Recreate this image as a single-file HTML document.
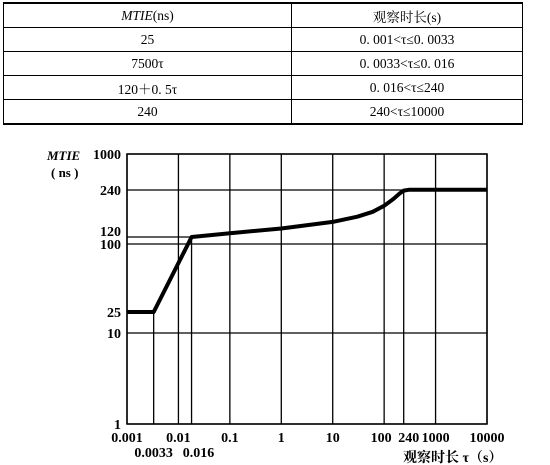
<!DOCTYPE html>
<html><head><meta charset="utf-8"><style>
body{margin:0;background:#fff;width:550px;height:465px;overflow:hidden;font-family:"Liberation Serif","Noto Serif CJK SC",serif;}
table{position:absolute;left:3px;top:2px;width:520px;border-collapse:collapse;font-size:13.5px;}
td{border:1px solid #000;height:23px;text-align:center;padding:0;}
table tr:first-child td{border-top:2px solid #000;}
table tr:last-child td{border-bottom:2px solid #000;}
svg{position:absolute;left:0;top:0;}
</style></head><body>
<table>
<tr><td style="width:287px"><i>MTIE</i>(ns)</td><td>观察时长(s)</td></tr>
<tr><td>25</td><td>0. 001&lt;τ≤0. 0033</td></tr>
<tr><td>7500τ</td><td>0. 0033&lt;τ≤0. 016</td></tr>
<tr><td>120＋0. 5τ</td><td>0. 016&lt;τ≤240</td></tr>
<tr><td>240</td><td>240&lt;τ≤10000</td></tr>
</table>
<svg id="c" width="550" height="465"></svg>
<script>
const xTicks=[0.001,0.01,0.1,1,10,100,1000,10000];
const xTickLabels=["0.001","0.01","0.1","1","10","100","1000","10000"];
const xExtra=[0.0033,0.016,240];
const xExtraLabels=["0.0033","0.016","240"];
const yTicks=[1,10,25,100,120,240,1000];
const yTickLabels=["1","10","25","100","120","240","1000"];
const tauValues=[0.001,0.0033,0.018,0.1,1,10,30,60,100,150,200,240,300,10000];
const mtieValues=[25,25,120,127,136,150,162,174,190,210,228,238,242,242];
const L=127,R=487,T=154,B=424;
const yAnchorV=[1,10,25,100,120,240,1000];
const yAnchorP=[424,333,312,244,237,190,154];
function xs(v){return L+(Math.log10(v)+3)*(R-L)/7;}
function ys(v){const lv=Math.log10(v);for(let i=0;i<yAnchorV.length-1;i++){const a=Math.log10(yAnchorV[i]),b=Math.log10(yAnchorV[i+1]);if(lv<=b||i==yAnchorV.length-2){return yAnchorP[i]+(lv-a)/(b-a)*(yAnchorP[i+1]-yAnchorP[i]);}}}
const s=document.getElementById('c');const NS='http://www.w3.org/2000/svg';
function el(t,a,txt){const e=document.createElementNS(NS,t);for(const k in a)e.setAttribute(k,a[k]);if(txt!==undefined)e.textContent=txt;s.appendChild(e);return e;}
function yAt(t){for(let i=0;i<tauValues.length-1;i++){if(t<=tauValues[i+1]){const f=(Math.log10(t)-Math.log10(tauValues[i]))/(Math.log10(tauValues[i+1])-Math.log10(tauValues[i]));return ys(mtieValues[i])+f*(ys(mtieValues[i+1])-ys(mtieValues[i]));}}return ys(mtieValues[mtieValues.length-1]);}
let e=el('rect',{x:L,y:T,width:R-L,height:B-T,fill:'none',stroke:'#000','stroke-width':1.5});

xTicks.forEach((v,i)=>{let g=el('line',{x1:xs(v),x2:xs(v),y1:T,y2:B,stroke:'#000','stroke-width':1.3});

let off=v==100?-3:0;
let t=el('text',{x:xs(v)+off,y:442,'text-anchor':'middle','font-size':14,'font-weight':'bold'},xTickLabels[i]);
});
xExtra.forEach((v,i)=>{const xv=v==0.016?xs(0.018):xs(v);let g=el('line',{x1:xv,x2:xv,y1:yAt(v==0.016?0.018:v),y2:B,stroke:'#000','stroke-width':1.3});

let off=v==240?5:(v==0.016?7:0);
let t=el('text',{x:xv+off,y:v==240?442:457,'text-anchor':'middle','font-size':14,'font-weight':'bold'},xExtraLabels[i]);
});
yTicks.forEach((v,i)=>{const y=ys(v);
if(v==120){let g=el('line',{x1:L,x2:xs(0.018),y1:y,y2:y,stroke:'#000','stroke-width':1.3});}
else if(v!=25){let g=el('line',{x1:L,x2:R,y1:y,y2:y,stroke:'#000','stroke-width':1.3});}
let dy=v==120?-1:5;
let t=el('text',{x:L-6,y:y+dy,'text-anchor':'end','font-size':14,'font-weight':'bold'},yTickLabels[i]);
});
const d=tauValues.map((t,i)=>(i?'L':'M')+xs(t).toFixed(1)+','+ys(mtieValues[i]).toFixed(1)).join(' ');
e=el('path',{d:d,fill:'none',stroke:'#000','stroke-width':4,'stroke-linejoin':'round'});

e=el('text',{x:47,y:160,'font-size':13,'font-style':'italic','font-weight':'bold'},'MTIE');

e=el('text',{x:51,y:177,'font-size':13,'font-weight':'bold'},'( ns )');

e=el('text',{x:403,y:462,'font-size':14,'font-weight':'bold'},'观察时长 τ（s）');

</script>
</body></html>
